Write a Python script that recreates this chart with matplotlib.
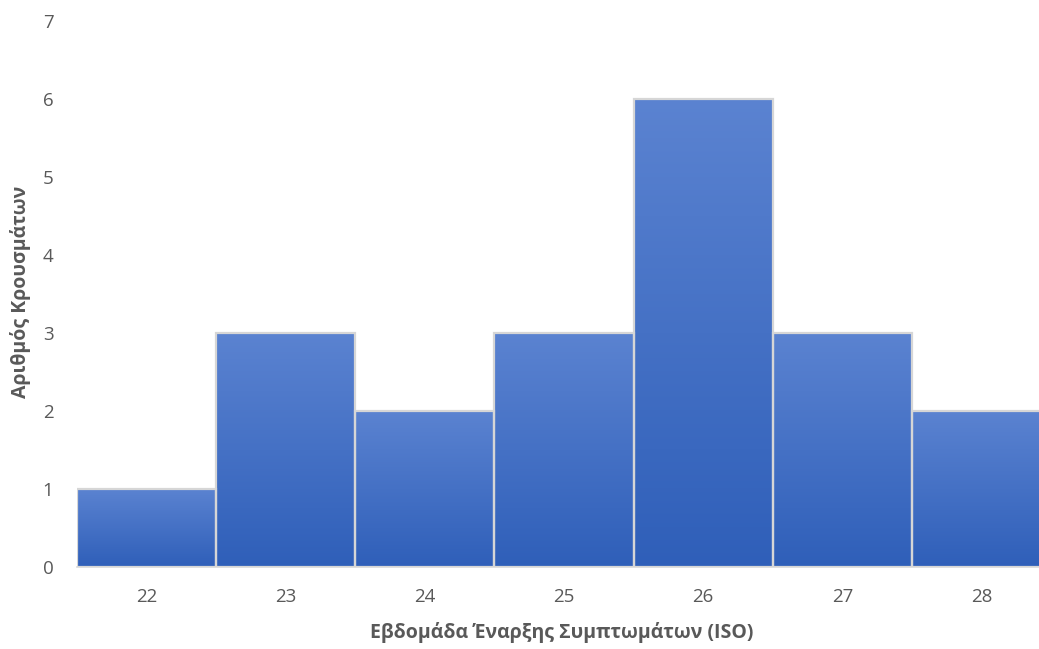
import numpy as np
import matplotlib.pyplot as plt
from matplotlib.colors import LinearSegmentedColormap

weeks = [22, 23, 24, 25, 26, 27, 28]
cases = [1, 3, 2, 3, 6, 3, 2]
yticks = [0, 1, 2, 3, 4, 5, 6, 7]

plt.rcParams['font.family'] = ['Open Sans', 'DejaVu Sans']

fig = plt.figure(figsize=(10.39, 6.49), dpi=100)
ax = fig.add_axes([0.0741, 0.1263, 0.9375, 0.8413])

grad = LinearSegmentedColormap.from_list("g", ["#2f5fb9", "#5b83d1"])
gimg = np.linspace(0, 1, 256).reshape(-1, 1)

bars = ax.bar(weeks, cases, width=1.0, color="none", edgecolor="#d6d6d6", linewidth=1.6, zorder=3)
for b in bars:
    x0 = b.get_x()
    w, h = b.get_width(), b.get_height()
    # each bar gets its own top-to-bottom gradient
    im = ax.imshow(gimg, cmap=grad, origin="lower", aspect="auto",
                   extent=[x0, x0 + w, 0, h], zorder=2)
    im.set_clip_path(b)

ax.set_xlim(21.5, 28.5)
ax.set_ylim(0, 7)
ax.set_xticks(weeks)
ax.set_yticks(yticks)
ax.tick_params(length=0, labelsize=13.5, colors="#595959")
ax.tick_params(axis="x", pad=15)
ax.tick_params(axis="y", pad=17)
for s in ["top", "right", "left"]:
    ax.spines[s].set_visible(False)
ax.spines["bottom"].set_color("#d9d9d9")
ax.spines["bottom"].set_linewidth(1.2)

fig.text(0.541, 0.025, "Εβδομάδα Έναρξης Συμπτωμάτων (ISO)", ha="center", va="center",
         fontsize=14, fontweight="bold", color="#595959")
fig.text(0.02, 0.55, "Αριθμός Κρουσμάτων", ha="center", va="center", rotation=90,
         fontsize=14, fontweight="bold", color="#595959")

fig.savefig("out.png", dpi=100)
